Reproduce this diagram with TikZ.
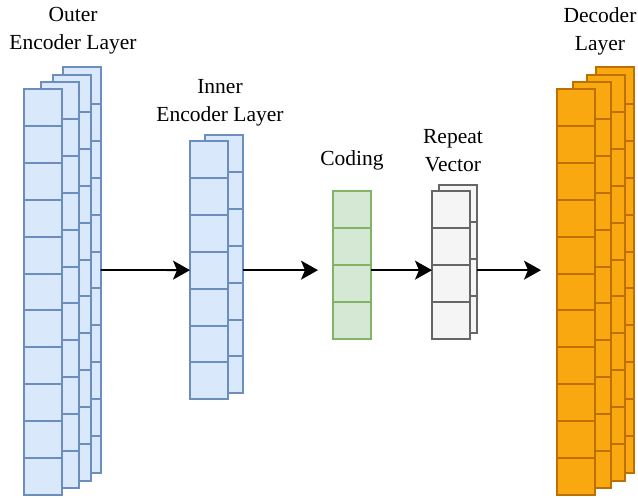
\documentclass[tikz,border=0pt]{standalone}
\usepackage{fontspec}
\setmainfont{Liberation Serif}
\usetikzlibrary{arrows.meta}
\definecolor{bluefill}{HTML}{DAE8FC}
\definecolor{bluedraw}{HTML}{6C8EBF}
\definecolor{greenfill}{HTML}{D5E8D4}
\definecolor{greendraw}{HTML}{82B366}
\definecolor{grayfill}{HTML}{F5F5F5}
\definecolor{graydraw}{HTML}{666666}
\definecolor{orangefill}{HTML}{F9A90F}
\definecolor{orangedraw}{HTML}{BD7000}
\tikzset{
  bluecell/.style={draw=bluedraw,fill=bluefill,line width=2pt},
  greencell/.style={draw=greendraw,fill=greenfill,line width=2pt},
  graycell/.style={draw=graydraw,fill=grayfill,line width=2pt},
  orangecell/.style={draw=orangedraw,fill=orangefill,line width=2pt},
  lbl/.style={font=\fontsize{21.5}{28}\selectfont,align=center,inner sep=0pt},
  flow/.style={-{Stealth[length=17pt,width=19pt,inset=4pt]},line width=1.8pt,black},
}
\newcommand\layercol[5]{%
  \foreach \k in {1,...,#4}{%
    \draw[#5] (#2,{#3+(\k-1)*36.9}) rectangle ++(37.5,36.9);
  }%
  \node[inner sep=0pt,outer sep=0pt,minimum width=37.5pt,minimum height={#4*36.9pt},anchor=north west] (#1) at (#2,#3) {};
}
\begin{document}
\begin{tikzpicture}[x=1pt,y=-1pt]
\useasboundingbox (0,0) rectangle (638,498);
% outer encoder
\layercol{oc4}{63}{67}{11}{bluecell}
\layercol{oc3}{53}{75}{11}{bluecell}
\layercol{oc2}{41}{82}{11}{bluecell}
\layercol{oc1}{24}{89}{11}{bluecell}
% inner encoder
\layercol{ic2}{205}{135}{7}{bluecell}
\layercol{ic1}{190}{141}{7}{bluecell}
% coding
\layercol{cod}{333}{191}{4}{greencell}
% repeat vector
\layercol{rv2}{439}{185}{4}{graycell}
\layercol{rv1}{432}{191}{4}{graycell}
% decoder
\layercol{dc4}{596}{67}{11}{orangecell}
\layercol{dc3}{587}{75}{11}{orangecell}
\layercol{dc2}{573}{82}{11}{orangecell}
\layercol{dc1}{557}{89}{11}{orangecell}
% labels
\node[lbl] (louter) at (73,31) {Outer\\Encoder Layer};
\node[lbl] (linner) at (220,103) {Inner\\Encoder Layer};
\node[lbl] (lcod) at (352,160.5) {Coding};
\node[lbl] (lrv) at (453,151) {Repeat\\Vector};
\node[lbl] (ldec) at (600,31) {Decoder\\Layer};
% arrows
\draw[flow] (oc4.east) -- (ic1.west);
\draw[flow,shorten >=15pt] (ic2.east |- ic1.center) -- (cod.west |- ic1.center);
\draw[flow] (cod.east |- ic1.center) -- (rv1.west |- ic1.center);
\draw[flow,shorten >=16pt] (rv2.east |- ic1.center) -- (dc1.west |- ic1.center);
\end{tikzpicture}
\end{document}
